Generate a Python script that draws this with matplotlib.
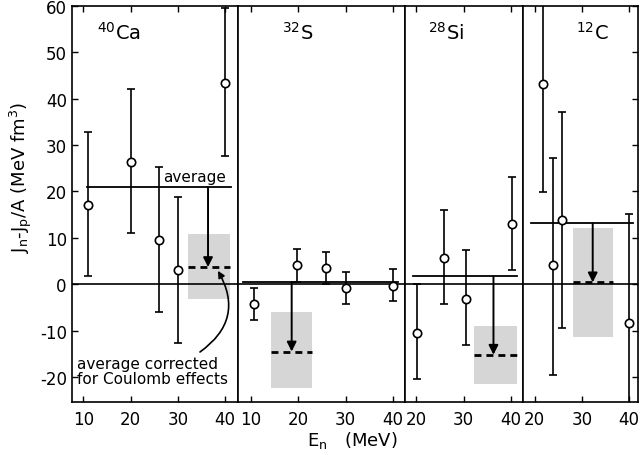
import matplotlib
matplotlib.use("Agg")
import matplotlib.pyplot as plt
from matplotlib.patches import Rectangle

plt.rcParams['axes.unicode_minus'] = False

# J_n - J_p / A values for each target nucleus
ca_E = [11, 20, 26, 30, 40]
ca_J = [17.0, 26.4, 9.5, 3.1, 43.3]
ca_lo = [1.7, 11.0, -6.0, -12.7, 27.7]
ca_hi = [32.8, 42.1, 25.3, 18.8, 59.5]

s_E = [10.7, 19.8, 25.8, 30.1, 40.1]
s_J = [-4.3, 4.1, 3.4, -0.9, -0.4]
s_lo = [-7.7, 0.5, 0.0, -4.3, -3.6]
s_hi = [-0.9, 7.7, 7.0, 2.7, 3.2]

si_E = [20.1, 25.9, 30.4, 40.2]
si_J = [-10.4, 5.6, -3.1, 12.9]
si_lo = [-20.5, -4.3, -13.1, 3.1]
si_hi = [0.0, 16.0, 7.3, 23.2]

c_E = [21.8, 23.9, 25.9, 40.0]
c_J = [43.1, 4.1, 13.9, -8.3]
c_lo = [19.9, -19.5, -9.5, -27.0]
c_hi = [62.0, 27.1, 37.2, 15.2]

nuclei = [r"$^{40}$Ca", r"$^{32}$S", r"$^{28}$Si", r"$^{12}$C"]
energies = [ca_E, s_E, si_E, c_E]
values = [ca_J, s_J, si_J, c_J]
lows = [ca_lo, s_lo, si_lo, c_lo]
highs = [ca_hi, s_hi, si_hi, c_hi]

# plain average and its Coulomb-corrected value (with uncertainty band)
avg_J = [21.0, 0.5, 1.7, 13.1]
avg_from = [10.8, 8.3, 19.3, 19.3]
avg_to = [41.2, 41.2, 41.3, 40.8]
corr_J = [3.7, -14.5, -15.2, 0.4]
corr_lo = [-3.1, -22.4, -21.6, -11.4]
corr_hi = [10.9, -6.0, -8.9, 12.1]
corr_from = [32.1, 14.3, 32.1, 28.2]
corr_to = [41.0, 23.0, 41.2, 36.6]
arrow_E = [36.4, 18.6, 36.3, 32.3]

xlims = [(7.55, 42.7), (7.2, 42.5), (17.5, 42.5), (17.5, 41.9)]
xticks = [[10, 20, 30, 40], [10, 20, 30, 40], [20, 30, 40], [20, 30, 40]]
label_pos = [(13.0, 54.5), (16.6, 54.5), (22.4, 54.5), (28.8, 54.5)]

fig = plt.figure(figsize=(6.4, 4.56), dpi=100)
widths = [hi - lo for lo, hi in xlims]
gs = fig.add_gridspec(1, 4, width_ratios=widths, left=0.112, right=0.997,
                      bottom=0.116, top=0.985, wspace=0)

for i in range(4):
    ax = fig.add_subplot(gs[0, i])
    ax.set_xlim(*xlims[i])
    ax.set_ylim(-25.4, 60)

    # zero line
    ax.axhline(0, color='k', lw=1.2, zorder=2)

    # error bars with open circles
    E = energies[i]
    J = values[i]
    yerr = [[j - l for j, l in zip(J, lows[i])], [h - j for j, h in zip(J, highs[i])]]
    ax.errorbar(E, J, yerr=yerr, fmt='o', mfc='white', mec='k', mew=1.2, ms=6,
                ecolor='k', elinewidth=1.2, capsize=3, capthick=1.2, zorder=4)

    # average line
    ax.plot([avg_from[i], avg_to[i]], [avg_J[i], avg_J[i]], color='k', lw=1.3, zorder=3)

    # corrected average: shaded band + dashed line
    ax.add_patch(Rectangle((corr_from[i], corr_lo[i]), corr_to[i] - corr_from[i],
                           corr_hi[i] - corr_lo[i], facecolor='#d6d6d6',
                           edgecolor='none', zorder=1))
    ax.plot([corr_from[i], corr_to[i]], [corr_J[i], corr_J[i]], color='k', lw=2,
            ls=(0, (2.5, 1.8)), zorder=3)
    ax.annotate('', xy=(arrow_E[i], corr_J[i]), xytext=(arrow_E[i], avg_J[i]),
                arrowprops=dict(arrowstyle='-|>', color='k', lw=1.4,
                                mutation_scale=14, shrinkA=0, shrinkB=0), zorder=5)

    ax.text(*label_pos[i], nuclei[i], fontsize=14, ha='left', va='center')

    ax.set_xticks(xticks[i])
    ax.tick_params(axis='x', direction='in', top=True, length=4, width=1,
                   labelsize=12, pad=6)
    if i == 0:
        ax.set_yticks(range(-20, 61, 10))
        ax.tick_params(axis='y', direction='in', length=4, width=1, labelsize=12)
    elif i == 3:
        ax.set_yticks(range(-20, 61, 10))
        ax.tick_params(axis='y', direction='in', left=False, right=True,
                       labelleft=False, length=4, width=1)
    else:
        ax.set_yticks([])
    for sp in ax.spines.values():
        sp.set_linewidth(1.2)

    if i == 0:
        ax.text(27.0, 23.2, 'average', fontsize=11, ha='left', va='center')
        ax.text(8.6, -18.8, 'average corrected\nfor Coulomb effects', fontsize=11,
                ha='left', va='center', linespacing=1.0)
        ax.annotate('', xy=(38.5, 2.9), xytext=(34.7, -14.6),
                    arrowprops=dict(arrowstyle='-|>', color='k', lw=1.2,
                                    mutation_scale=10, shrinkA=0, shrinkB=0,
                                    connectionstyle='arc3,rad=0.45'))

fig.text(0.033, 0.61, r'J$_\mathrm{n}$-J$_\mathrm{p}$/A (MeV fm$^3$)', rotation=90,
         fontsize=13, ha='center', va='center')
fig.text(0.55, 0.035, r'E$_\mathrm{n}$   (MeV)', fontsize=13, ha='center', va='center')

fig.savefig('out.png', dpi=100)
